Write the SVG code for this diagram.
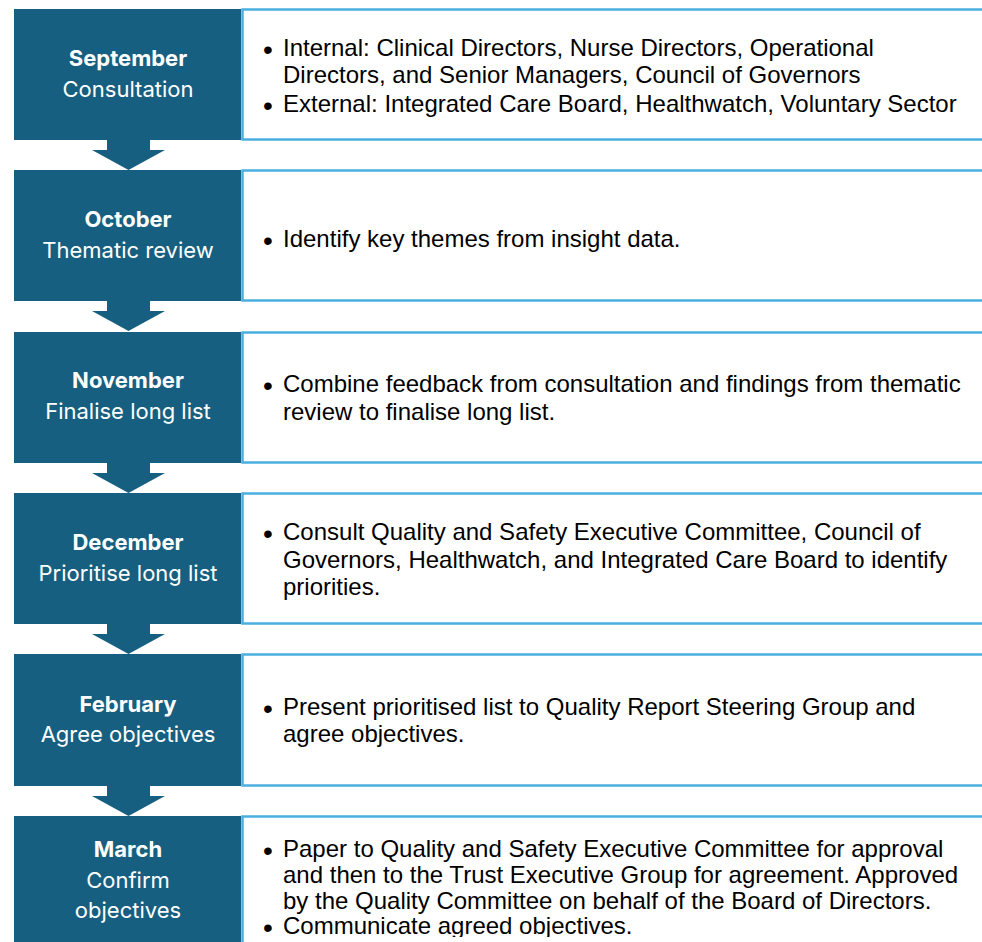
<svg xmlns="http://www.w3.org/2000/svg" width="982" height="942" viewBox="0 0 982 942">
  <style>
    .step { fill: #175F80; }
    .panel { fill: #FFFFFF; stroke: #4BAEE0; stroke-width: 2.5; }
    .arrow { fill: #175F80; }
    .month { font-family: Inter, "Open Sans", sans-serif; font-weight: 700; font-size: 22px; fill: #FFFFFF; text-anchor: middle; }
    .phase { font-family: Inter, "Open Sans", sans-serif; font-weight: 400; font-size: 22px; fill: #FFFFFF; text-anchor: middle; }
    .body { font-family: "Liberation Sans", Arial, sans-serif; font-size: 24px; fill: #000000; }
    .dot { font-family: "Liberation Sans", Arial, sans-serif; font-size: 28px; fill: #000000; }
  </style>
  <defs>
    <clipPath id="pageClip">
      <rect x="0" y="0" width="982" height="937"/>
    </clipPath>
  </defs>
  <rect x="0" y="0" width="982" height="942" fill="#FFFFFF"/>

  <!-- connectors: block arrows between stages -->
  <g id="connectors">
    <polygon class="arrow" points="107,140 150,140 150,150 165,150 128.5,170 92,150 107,150"/>
    <polygon class="arrow" points="107,301 150,301 150,311 165,311 128.5,331 92,311 107,311"/>
    <polygon class="arrow" points="107,463 150,463 150,473 165,473 128.5,493 92,473 107,473"/>
    <polygon class="arrow" points="107,624 150,624 150,634 165,634 128.5,654 92,634 107,634"/>
    <polygon class="arrow" points="107,786 150,786 150,796 165,796 128.5,816 92,796 107,796"/>
  </g>

  <!-- September -->
  <g id="september">
    <rect class="panel" x="242.5" y="9.5" width="745" height="130"/>
    <rect class="step" x="14" y="9" width="227" height="131"/>
    <text class="month" x="128" y="66">September</text>
    <text class="phase" x="128" y="97">Consultation</text>
    <text class="dot" x="263" y="59">•</text>
    <text class="body" x="283" y="56">Internal: Clinical Directors, Nurse Directors, Operational</text>
    <text class="body" x="283" y="83">Directors, and Senior Managers, Council of Governors</text>
    <text class="dot" x="263" y="115">•</text>
    <text class="body" x="283" y="112">External: Integrated Care Board, Healthwatch, Voluntary Sector</text>
  </g>

  <!-- October -->
  <g id="october">
    <rect class="panel" x="242.5" y="170.5" width="745" height="130"/>
    <rect class="step" x="14" y="170" width="227" height="131"/>
    <text class="month" x="128" y="227">October</text>
    <text class="phase" x="128" y="258">Thematic review</text>
    <text class="dot" x="263" y="250">•</text>
    <text class="body" x="283" y="247">Identify key themes from insight data.</text>
  </g>

  <!-- November -->
  <g id="november">
    <rect class="panel" x="242.5" y="332.5" width="745" height="130"/>
    <rect class="step" x="14" y="332" width="227" height="131"/>
    <text class="month" x="128" y="388">November</text>
    <text class="phase" x="128" y="419">Finalise long list</text>
    <text class="dot" x="263" y="395">•</text>
    <text class="body" x="283" y="392">Combine feedback from consultation and findings from thematic</text>
    <text class="body" x="283" y="420">review to finalise long list.</text>
  </g>

  <!-- December -->
  <g id="december">
    <rect class="panel" x="242.5" y="493.5" width="745" height="130"/>
    <rect class="step" x="14" y="493" width="227" height="131"/>
    <text class="month" x="128" y="550">December</text>
    <text class="phase" x="128" y="581">Prioritise long list</text>
    <text class="dot" x="263" y="543">•</text>
    <text class="body" x="283" y="540">Consult Quality and Safety Executive Committee, Council of</text>
    <text class="body" x="283" y="568">Governors, Healthwatch, and Integrated Care Board to identify</text>
    <text class="body" x="283" y="595">priorities.</text>
  </g>

  <!-- February -->
  <g id="february">
    <rect class="panel" x="242.5" y="654.5" width="745" height="131"/>
    <rect class="step" x="14" y="654" width="227" height="132"/>
    <text class="month" x="128" y="712">February</text>
    <text class="phase" x="128" y="742">Agree objectives</text>
    <text class="dot" x="263" y="718">•</text>
    <text class="body" x="283" y="715">Present prioritised list to Quality Report Steering Group and</text>
    <text class="body" x="283" y="742">agree objectives.</text>
  </g>

  <!-- March -->
  <g id="march">
    <rect class="panel" x="242.5" y="816.5" width="745" height="140"/>
    <rect class="step" x="14" y="816" width="227" height="130"/>
    <text class="month" x="128" y="857">March</text>
    <text class="phase" x="128" y="888">Confirm</text>
    <text class="phase" x="128" y="918">objectives</text>
    <g clip-path="url(#pageClip)">
      <text class="dot" x="263" y="860">•</text>
      <text class="body" x="283" y="857">Paper to Quality and Safety Executive Committee for approval</text>
      <text class="body" x="283" y="883">and then to the Trust Executive Group for agreement. Approved</text>
      <text class="body" x="283" y="909">by the Quality Committee on behalf of the Board of Directors.</text>
      <text class="dot" x="263" y="937">•</text>
      <text class="body" x="283" y="934">Communicate agreed objectives.</text>
    </g>
  </g>
</svg>
